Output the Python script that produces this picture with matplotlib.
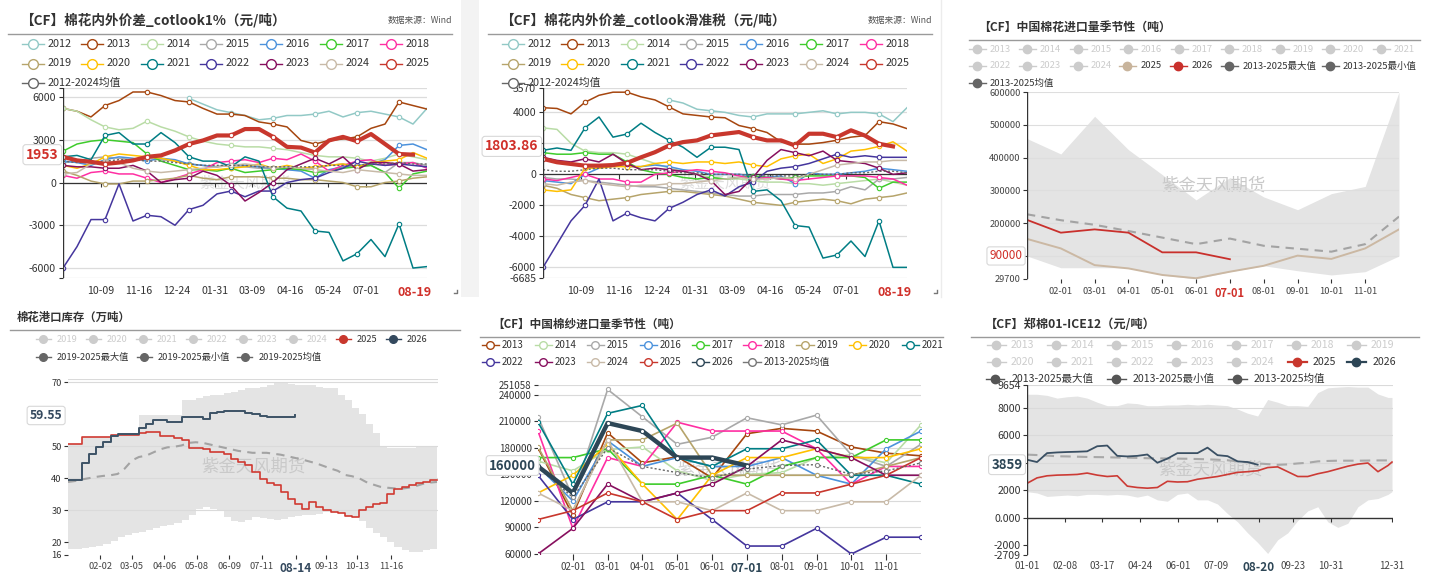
import matplotlib
matplotlib.use('Agg')
import matplotlib.pyplot as plt
from matplotlib.lines import Line2D
from matplotlib.patches import Rectangle
import numpy as np
import pandas as pd

plt.rcParams['font.family'] = ['Noto Sans CJK SC', 'DejaVu Sans']
plt.rcParams['axes.unicode_minus'] = False

W, H = 1429, 575

# ===================== DATA =====================
# ---- panels 1 & 2: season Sep-01 .. Aug-31, samples every 14 days ----
P12_SEASON_START = '2024-09-01'
P12_DAYS = [0, 14, 28, 42, 56, 70, 84, 98, 112, 126, 140, 154, 168, 182, 196,
            210, 224, 238, 252, 266, 280, 294, 308, 322, 336, 350, 364]
P12_TICK_LABELS = ['10-09', '11-16', '12-24', '01-31', '03-09', '04-16', '05-24', '07-01', '08-19']
N = None
P1 = {
    '2012': [N, N, N, N, N, N, N, N, N, 5900, 5500, 5100, 4900, 4700, 4400, 4500, 4700, 4700,
             4800, 5000, 4600, 4900, 5000, 4800, 4600, 4100, 5200],
    '2013': [5200, 5000, 4600, 5400, 5750, 6350, 6350, 6100, 5750, 5650, 5200, 4800, 4800, 4700,
             4250, 4100, 3900, 2950, 2700, 2950, 3050, 3200, 3800, 4100, 5650, 5400, 5150],
    '2014': [5200, 5000, 4400, 3900, 3700, 3800, 4300, 3900, 3600, 3200, 2900, 2700, 2600, 2500,
             2500, 2400, 2300, 2100, 1900, 1800, 1800, 1700, 1500, 1700, 2000, 1800, 1600],
    '2015': [1400, 1500, 1700, 1800, 1700, 1600, 1700, 1600, 1500, 1300, 1200, 1100, 1200, 1100,
             1000, 1000, 900, 900, 1000, 1200, 1300, 1100, 1200, 700, 1400, 1400, 1200],
    '2016': [1500, 1400, 1200, 1600, 1800, 1700, 1500, 1700, 1600, 1300, 1200, 1100, 1300, 1200,
             1100, 1000, 900, 800, 300, 900, 1100, 1200, 1300, 1600, 2600, 2700, 2300],
    '2017': [2200, 2700, 2900, 3000, 2900, 2800, 2000, 1500, 1200, 900, 900, 800, 1000, 700,
             800, 900, 1000, 900, 700, 800, 1000, 1100, 1200, 700, -400, 600, 800],
    '2018': [500, 300, 700, 800, 600, 600, 300, 0, 300, 600, 900, 1400, 1500, 1600, 1400, 1700,
             1600, 2000, 1500, 800, 1200, 1500, 1600, 1200, 1300, 1400, 1000],
    '2019': [800, 500, 100, -100, -100, 100, 100, 200, 300, 500, 300, 200, 400, 400, 400, 300,
             300, 200, 200, 100, 0, -300, -300, 0, 100, 300, 400],
    '2020': [1200, 1000, 1300, 1800, 2000, 1900, 1800, 1700, 1500, 1200, 900, 900, 1000, 1100,
             1300, 1000, 1200, 1000, 1100, 1200, 1300, 1100, 1400, 1500, 1600, 2100, 1700],
    '2021': [1800, 1900, 1600, 3300, 3500, 2700, 2700, 3500, 2800, 1800, 1500, 1500, 1100, 1800,
             1500, -1000, -1800, -2000, -3400, -3500, -5500, -5000, -4000, -5200, -2900, -6000, -5900],
    '2022': [-6000, -4500, -2600, -2600, -100, -2700, -2300, -2400, -3000, -1900, -1600, -800, -600,
             -1000, -600, -600, 0, 200, 300, 700, 1000, 1500, 1300, 1200, 1300, 1200, 1100],
    '2023': [1200, 1100, 1100, 1000, 1000, 1200, 800, 0, 200, 300, 800, 500, -200, -1300, -700,
             0, 900, 1300, 1700, 1300, 1800, 900, 1400, 1400, 1300, 800, 900],
    '2024': [600, 700, 1300, 1500, 1400, 1000, 800, 700, 800, 900, 1000, 1100, 1200, 1300, 1200,
             1000, 1100, 1000, 900, 800, 700, 900, 800, 700, 600, 500, 500],
    '2025': [1800, 1550, 1450, 1300, 1400, 1550, 1800, 1900, 2250, 2700, 2950, 3300, 3300, 3750,
             3750, 3200, 2500, 2450, 2100, 2950, 3200, 2900, 3400, 2700, 2000, 1953, N],
    'mean': [1500, 1400, 1400, 1500, 1600, 1600, 1500, 1500, 1400, 1300, 1200, 1200, 1200, 1200,
             1100, 1100, 1100, 1100, 1100, 1200, 1200, 1200, 1300, 1300, 1400, 1300, 1300],
}
P2 = {
    '2012': [N, N, N, N, N, N, N, N, N, 4800, 4600, 4200, 4100, 4000, 3800, 3700, 3900, 3900,
             3900, 4000, 4100, 3900, 4000, 4000, 3900, 3400, 4300],
    '2013': [4300, 4250, 3900, 4650, 5100, 5300, 5300, 5000, 4800, 4350, 3900, 3800, 3700, 3650,
             3150, 2950, 2700, 2100, 1950, 1950, 2050, 2200, 2400, 2500, 3400, 3250, 2950],
    '2014': [3000, 2900, 2000, 1500, 1400, 1400, 1300, 1000, 700, 400, 200, 0, -200, -300, -300,
             -400, -500, -500, -600, -600, -700, -600, -500, -400, -300, -500, -700],
    '2015': [-200, -300, -300, -400, -500, -600, -700, -800, -800, -900, -1000, -1100, -1200, -1300,
             -1400, -1400, -1300, -1300, -1300, -1200, -1200, -1100, -800, -1000, -300, -300, -200],
    '2016': [-400, -500, -600, 0, 400, 600, 500, 500, 600, 500, 300, 200, 0, 0, 0, -100, -200,
             -100, -600, 100, 0, 0, 100, 200, 400, 300, 200],
    '2017': [1400, 1300, 1300, 1400, 1300, 1300, 800, 300, 100, 0, -200, -300, -200, -300, -200,
             -100, -200, -300, -200, -100, -100, -100, -100, -200, -900, -500, -500],
    '2018': [-300, -400, -200, 0, -300, -300, -500, -500, 0, 100, 200, 300, 200, 100, -100, -300,
             -200, -300, -400, -300, -200, -100, -100, -100, -200, -300, -700],
    '2019': [-700, -900, -1300, -1500, -1700, -1600, -1500, -1300, -1200, -1100, -1100, -1200, -1300,
             -1400, -1600, -1800, -1900, -2000, -1800, -1700, -1600, -1700, -1900, -1600, -1500, -1400, -1200],
    '2020': [-1000, -1100, -1000, 400, 400, 500, 500, 500, 700, 800, 700, 800, 800, 700, 800, 600,
             500, 1000, 1200, 1300, 700, 1000, 1500, 1600, 1800, 2100, 1500],
    '2021': [1550, 1700, 1550, 3000, 3700, 2400, 2600, 3300, 2700, 2200, 1750, 1100, 1750, 1750,
             1600, -1100, -1000, -1700, -3300, -3400, -5400, -5200, -4300, -5300, -3000, -6000, -6000],
    '2022': [-6000, -4500, -3000, -2000, -300, -3000, -2500, -2800, -3000, -2200, -1800, -1300, -1000,
             -1400, -800, -500, 200, 400, 500, 700, 1000, 1300, 1100, 1200, 1100, 1100, 1100],
    '2023': [1100, 900, 800, 1000, 800, 1300, 700, 300, 400, 300, 200, 0, -400, -1300, -1100, -200,
             900, 1600, 1400, 1200, 1500, 900, 800, 700, 400, 0, 100],
    '2024': [-600, -700, -500, -400, -600, -700, -800, -700, -700, -600, -600, -500, -400, -300, -200,
             -300, -300, -200, -300, 0, 300, 600, 700, 800, 800, 900, 900],
    '2025': [1000, 780, 670, 560, 560, 600, 740, 1100, 1430, 1860, 2080, 2190, 2510, 2620, 2730,
             2400, 2190, 2190, 1860, 2620, 2620, 2400, 2840, 2500, 1970, 1804, N],
    'mean': [300, 200, 200, 300, 400, 400, 300, 300, 300, 200, 100, 100, 0, 0, 0, -100, -100, -100,
             -100, 0, 0, 0, 100, 100, 200, 200, 100],
}

# ---- panel 3: China cotton imports, monthly (t) ----
P3_MONTHS = ['01-01', '02-01', '03-01', '04-01', '05-01', '06-01', '07-01', '08-01',
             '09-01', '10-01', '11-01', '12-01']
P3_MAX = [458000, 411000, 526000, 424000, 348000, 271000, 339000, 280000, 241000, 290000, 312000, 600000]
P3_MIN = [100000, 64000, 64000, 64000, 42000, 29700, 52000, 70000, 55000, 42000, 52000, 100000]
P3_MEAN = [227000, 209000, 195000, 176000, 156000, 136000, 153000, 131000, 122000, 113000, 136000, 220000]
P3_2025 = [152000, 123000, 72000, 62000, 42000, 32000, 52000, 70000, 101000, 91000, 123000, 181000]
P3_2026 = [210000, 171000, 181000, 171000, 111000, 111000, 90000]

# ---- panel 4: cotton port inventory, weekly (10k t) ----
P4_YEAR = 2025
P4_WEEK_DAYS = [7 * i for i in range(53)]
P4_TICK_LABELS = ['02-02', '03-05', '04-06', '05-08', '06-09', '07-11', '08-14', '09-13', '10-13', '11-16']
P4_2025 = [50.5, 50.5, 52.9, 52.9, 52.9, 52.9, 53.5, 53.5, 53.5, 53.5, 54.2, 54.5, 54.5, 53.3,
           53.0, 52.6, 52.0, 49.5, 49.3, 49.0, 48.2, 48.2, 47.5, 46.1, 45.0, 44.0, 41.9, 39.8,
           38.5, 37.7, 35.7, 33.6, 32.0, 30.4, 32.5, 31.1, 29.9, 29.3, 29.0, 28.3, 27.8, 29.9,
           30.9, 32.0, 32.3, 35.1, 36.7, 37.2, 37.7, 38.5, 38.9, 39.3, 39.5]
P4_2026 = [39.5, 39.5, 44.6, 47.4, 49.8, 51.4, 53.1, 53.7, 53.7, 53.7, 55.6, 56.9, 58.2, 58.2,
           57.6, 57.6, 59.0, 59.0, 59.0, 58.5, 60.3, 60.5, 61.0, 61.0, 61.0, 60.3, 60.0, 59.4,
           59.2, 59.0, 59.0, 59.2, 59.55]
P4_MEAN = [38.8, 39.1, 39.6, 40.0, 40.4, 40.7, 40.9, 41.3, 43.0, 45.5, 46.6, 47.0, 48.0, 49.0,
           49.6, 49.8, 50.2, 51.0, 51.2, 51.0, 50.5, 50.0, 49.5, 49.0, 48.5, 48.2, 47.9, 47.9,
           47.9, 47.6, 47.3, 46.8, 46.3, 45.8, 45.2, 44.6, 43.8, 43.0, 42.3, 41.0, 40.6, 40.0,
           38.8, 38.0, 37.3, 37.0, 36.8, 36.7, 37.0, 37.5, 38.2, 38.6, 38.8]
P4_MAX = [50.5, 50.5, 52.9, 52.9, 52.9, 52.9, 53.5, 53.7, 53.7, 54.0, 59.7, 59.7, 59.7, 59.7,
          59.7, 59.7, 64.4, 64.5, 65.0, 65.5, 66.0, 66.0, 66.5, 67.0, 67.5, 68.0, 68.1, 68.5,
          69.0, 69.7, 69.7, 69.5, 69.2, 69.2, 69.0, 68.5, 68.1, 68.0, 66.0, 64.4, 62.0, 60.0,
          57.0, 54.0, 49.8, 49.3, 49.3, 49.5, 49.5, 49.8, 50.0, 50.1, 50.1]
P4_MIN = [17.9, 18.0, 18.2, 18.5, 18.9, 19.5, 20.5, 21.5, 22.3, 22.8, 23.3, 23.8, 24.3, 25.0,
          25.5, 26.0, 26.8, 28.5, 30.5, 31.0, 30.5, 29.9, 28.0, 26.5, 26.2, 27.0, 27.8, 27.5,
          27.2, 26.8, 27.3, 28.0, 28.3, 28.5, 28.6, 28.8, 29.5, 29.3, 29.0, 28.3, 27.8, 26.5,
          24.5, 23.0, 21.5, 20.0, 18.5, 17.5, 16.8, 17.0, 17.5, 18.0, 18.4]

# ---- panel 5: China cotton yarn imports, monthly (t) ----
P5_MONTHS = P3_MONTHS
P5 = {
    '2013': [180000, 104000, 197000, 163000, 170000, 146000, 196000, 202000, 199000, 181000, 174000, 171000],
    '2014': [165000, 154000, 178000, 181000, 154000, 143000, 150000, 152000, 169000, 172000, 163000, 206000],
    '2015': [215000, 124000, 246000, 215000, 184000, 192000, 214000, 206000, 217000, 172000, 159000, 184000],
    '2016': [159000, 120000, 188000, 159000, 169000, 159000, 159000, 169000, 149000, 139000, 179000, 199000],
    '2017': [169000, 169000, 179000, 139000, 139000, 149000, 139000, 159000, 169000, 169000, 189000, 189000],
    '2018': [199000, 89000, 169000, 159000, 209000, 199000, 199000, 199000, 179000, 139000, 159000, 159000],
    '2019': [181000, 109000, 189000, 189000, 208000, 149000, 149000, 149000, 149000, 149000, 159000, 169000],
    '2020': [129000, 149000, 184000, 139000, 99000, 149000, 169000, 169000, 179000, 169000, 169000, 179000],
    '2021': [209000, 139000, 219000, 228000, 169000, 159000, 179000, 179000, 189000, 149000, 149000, 139000],
    '2022': [149000, 99000, 119000, 119000, 129000, 99000, 69000, 69000, 89000, 60000, 79000, 79000],
    '2023': [60000, 89000, 139000, 119000, 129000, 139000, 159000, 189000, 179000, 169000, 149000, 149000],
    '2024': [129000, 109000, 189000, 119000, 119000, 109000, 129000, 109000, 109000, 119000, 119000, 149000],
    '2025': [99000, 109000, 129000, 119000, 99000, 109000, 109000, 129000, 129000, 139000, 149000, 169000],
    '2026': [159000, 129000, 208000, 199000, 169000, 169000, 160000],
    'mean': [158000, 124000, 180000, 159000, 152000, 146000, 156000, 160000, 161000, 150000, 154000, 163000],
}

# ---- panel 6: CZCE cotton 01 - ICE 12 spread, every 10 days (yuan/t) ----
P6_DAYS = [0, 10, 20, 30, 40, 50, 60, 70, 80, 90, 100, 110, 120, 130, 140, 150, 160, 170, 180,
           190, 200, 210, 220, 230, 240, 250, 260, 270, 280, 290, 300, 310, 320, 330, 340, 350, 360, 364]
P6_TICK_LABELS = ['01-01', '02-08', '03-17', '04-24', '06-01', '07-09', '08-20', '09-23', '10-31', '12-31']
P6_2025 = [2500, 2900, 3050, 3100, 3120, 3150, 3250, 3100, 3000, 3050, 2300, 2200, 2150, 2200,
           2650, 2600, 2620, 2800, 2900, 3000, 3150, 3300, 3350, 3420, 3650, 3700, 3350, 3000,
           3000, 3200, 3350, 3550, 3750, 3900, 3980, 3350, 3800, 4050]
P6_2026 = [4220, 4050, 4700, 4750, 4780, 4800, 4830, 5200, 5250, 4500, 4460, 4500, 4600, 4000,
           4300, 4700, 4700, 4700, 5100, 4550, 4480, 4100, 4050, 3859]
P6_MEAN = [4590, 4560, 4520, 4470, 4460, 4440, 4420, 4410, 4400, 4380, 4370, 4350, 4330, 4320,
           4310, 4300, 4290, 4270, 4250, 4220, 4180, 4100, 4030, 3950, 3900, 3850, 3880, 3950,
           4000, 4100, 4130, 4150, 4150, 4150, 4160, 4170, 4170, 4170]
P6_MAX = [8980, 8980, 8900, 8700, 8800, 8850, 8700, 8400, 8150, 8150, 8350, 8300, 8150, 8150,
          8200, 8200, 8250, 8200, 8250, 8200, 8150, 7900, 7600, 7400, 8600, 8400, 8150, 8150,
          8100, 9100, 9450, 9500, 9540, 9500, 9500, 9000, 8750, 8750]
P6_MIN = [1900, 1800, 1550, 1600, 1650, 1600, 1700, 1700, 1650, 1700, 1650, 1500, 1650, 1300,
          1200, 1700, 1800, 1300, 1300, 1000, 300, -300, -1100, -1800, -2600, -1600, -1100, -200,
          500, 800, -300, -700, -400, 800, 1300, 1400, 1700, 1900]

COLORS = {'2012': '#92c9c6', '2013': '#a6460f', '2014': '#b9dca6', '2015': '#a9a9a9',
          '2016': '#4c92dc', '2017': '#3fcc2c', '2018': '#ff2fa3', '2019': '#b6a46b',
          '2020': '#ffc000', '2021': '#007d84', '2022': '#45369d', '2023': '#870f5e',
          '2024': '#c8baa8', '2025': '#c8372d', 'mean': '#777777', '2026': '#2d4656'}

# ===================== HELPERS =====================
fig = plt.figure(figsize=(W / 100, H / 100), dpi=100)
fig.patch.set_facecolor('white')


def add_ax(x0, y0, x1, y1):
    return fig.add_axes([x0 / W, 1 - y1 / H, (x1 - x0) / W, (y1 - y0) / H])


def ftext(x, y, s, **kw):
    return fig.text(x / W, 1 - y / H, s, **kw)


def fline(x0, x1, y, color='#9a9a9a', lw=1.0):
    fig.add_artist(Line2D([x0 / W, x1 / W], [1 - y / H, 1 - y / H], color=color, lw=lw))


def legend_item(xc, y, label, color, seg, ms, text_x, fs, filled=False,
                text_color='#333333', lw=1.0):
    fig.add_artist(Line2D([(xc - seg / 2) / W, (xc + seg / 2) / W], [1 - y / H] * 2,
                          color=color, lw=lw))
    fig.add_artist(Line2D([xc / W], [1 - y / H], marker='o', ms=ms, lw=0,
                          mfc=(color if filled else 'white'), mec=color, mew=1.0))
    ftext(text_x, y, label, color=text_color, fontsize=fs, va='center', ha='left')


def base_style(ax):
    for s in ax.spines.values():
        s.set_visible(False)
    ax.set_facecolor('none')
    ax.tick_params(colors='#333333', labelcolor='#333333')


def tip(ax, yval, s, color, fs=10, weight='bold', dx=-0.012):
    ax.text(dx, yval, s, transform=ax.get_yaxis_transform(), ha='right', va='center',
            fontsize=fs, color=color, fontweight=weight, zorder=20, clip_on=False,
            bbox=dict(boxstyle='round,pad=0.22', fc='white', ec='#d8d8d8', lw=0.8))


def watermark(ax, fs=12.5, alpha=1.0, color='#c9c9c9'):
    ax.text(0.5, 0.5, '紫金天风期货', transform=ax.transAxes, ha='center', va='center',
            fontsize=fs, color=color, alpha=alpha, zorder=2)


def season_days(labels, start):
    s = pd.Timestamp(start)
    out = []
    for lab in labels:
        mth, d = int(lab[:2]), int(lab[3:])
        yr = s.year if mth >= s.month else s.year + 1
        out.append((pd.Timestamp(yr, mth, d) - s).days)
    return out


def doy_days(labels, year):
    s = pd.Timestamp(year, 1, 1)
    return [(pd.Timestamp(year, int(l[:2]), int(l[3:])) - s).days for l in labels]


# gap strip between panel 1 and 2, thin border before panel 3
fig.add_artist(Rectangle((461 / W, 1 - 297 / H), 18 / W, 297 / H, color='#f3f3f3', lw=0))
fig.add_artist(Line2D([941 / W, 941 / W], [1 - 297 / H, 1], color='#ececec', lw=1))
for cx in (457, 937):
    fig.add_artist(Line2D([(cx - 3) / W, cx / W, cx / W], [1 - 293 / H, 1 - 293 / H, 1 - 290 / H],
                          color='#777777', lw=1))


# ===================== PANELS 1 & 2 =====================
def draw_spread(ox, data, title, ylim, yticks, ylabels, tipval, tiptext):
    ftext(ox + 20, 20, title, fontsize=9.8, fontweight='bold', color='#333333', va='center')
    ftext(ox + 452, 20, '数据来源：Wind', fontsize=6.3, color='#555555', va='center', ha='right')
    fline(ox + 8, ox + 452, 34)
    names = ['2012', '2013', '2014', '2015', '2016', '2017', '2018',
             '2019', '2020', '2021', '2022', '2023', '2024', '2025']
    xs = [22, 81, 141, 200, 260, 320, 380]
    for i, nm in enumerate(names):
        xc = ox + xs[i % 7] + 11
        legend_item(xc, 44 + 19.5 * (i // 7), nm, COLORS[nm], 22, 7, xc + 15, 7.8)
    legend_item(ox + 33, 83, '2012-2024均值', '#666666', 22, 7, ox + 48, 7.8)

    ax = add_ax(ox + 63, 88, ox + 427, 278)
    base_style(ax)
    days = np.array(P12_DAYS, float)
    watermark(ax, fs=11, color='#dddddd')
    for nm in names:
        y = np.array([np.nan if v is None else v for v in data[nm]], float)
        thick = nm == '2025'
        ax.plot(days, y, color=COLORS[nm], lw=3.0 if thick else 1.1, zorder=6 if thick else 4,
                marker='o', ms=3.2, mfc='white', mec=COLORS[nm], mew=0.8, markevery=3)
    ym = np.array(data['mean'], float)
    ax.plot(days, ym, color='#666666', lw=1.0, ls=(0, (1.5, 1.5)), zorder=5)
    ax.set_xlim(0, 364)
    ax.set_ylim(*ylim)
    for g in yticks:
        ax.axhline(g, color='#dcdcdc', lw=0.9, zorder=1)
    ax.axhline(0, color='#333333', lw=0.9, zorder=3)
    ax.axvline(0, color='#333333', lw=1.0, zorder=7)
    ax.set_yticks(yticks)
    ax.set_yticklabels(ylabels, fontsize=7.6)
    ax.tick_params(axis='y', length=3, width=0.8, pad=2, color='#333333')
    tk = season_days(P12_TICK_LABELS, P12_SEASON_START)
    ax.set_xticks(tk)
    ax.set_xticklabels(P12_TICK_LABELS, fontsize=7.6)
    ax.tick_params(axis='x', length=0, pad=6)
    lab = ax.get_xticklabels()[-1]
    lab.set_color('#d0302a'); lab.set_fontweight('bold'); lab.set_fontsize(9)
    ax.vlines(tk[:-1], 0, -(ylim[1] - ylim[0]) * 0.022, color='#333333', lw=0.8, zorder=3)
    tip(ax, tipval, tiptext, '#d0302a', fs=10)
    return ax


draw_spread(0, P1, '【CF】棉花内外价差_cotlook1%（元/吨）', (-6700, 6630),
            [-6700, -6000, -3000, 0, 3000, 6000, 6630], ['', '-6000', '-3000', '0', '3000', '6000', ''],
            1953, '1953')
draw_spread(480, P2, '【CF】棉花内外价差_cotlook滑准税（元/吨）', (-6685, 5570),
            [-6685, -6000, -4000, -2000, 0, 2000, 4000, 5570],
            ['-6685', '-6000', '-4000', '-2000', '0', '', '4000', '5570'],
            1803.86, '1803.86')

# ===================== PANEL 3 =====================
ftext(978, 27, '【CF】中国棉花进口量季节性（吨）', fontsize=8.6, fontweight='bold', color='#333333', va='center')
fline(969, 1420, 40)
grey_c = '#cccccc'
p3_row1 = ['2013', '2014', '2015', '2016', '2017', '2018', '2019', '2020', '2021']
p3_x = [968, 1018, 1069, 1119, 1170, 1220, 1271, 1321, 1372]
for nm, x in zip(p3_row1, p3_x):
    legend_item(x + 9, 49, nm, grey_c, 17, 6, x + 22, 6.8, filled=True, text_color=grey_c)
for nm, x in zip(['2022', '2023', '2024'], p3_x[:3]):
    legend_item(x + 9, 66, nm, grey_c, 17, 6, x + 22, 6.8, filled=True, text_color=grey_c)
legend_item(1127, 66, '2025', '#c8b49c', 17, 6, 1141, 6.8, filled=True)
legend_item(1178, 66, '2026', '#c9302c', 17, 6, 1192, 6.8, filled=True)
legend_item(1229, 66, '2013-2025最大值', '#666666', 17, 6, 1243, 6.8, filled=True)
legend_item(1330, 66, '2013-2025最小值', '#666666', 17, 6, 1343, 6.8, filled=True)
legend_item(977, 83, '2013-2025均值', '#666666', 17, 6, 990, 6.8, filled=True)

ax3 = add_ax(1027, 92, 1399, 279)
base_style(ax3)
mx = np.arange(len(P3_MONTHS))
ax3.fill_between(mx, P3_MIN, P3_MAX, color='#e4e4e4', lw=0, zorder=1)
watermark(ax3, fs=12.5)
ax3.plot(mx, P3_MEAN, color='#a3a3a3', lw=1.5, ls=(0, (4, 3)), zorder=4)
ax3.plot(mx, P3_2025, color='#cbb8a3', lw=1.4, zorder=5)
ax3.plot(mx[:len(P3_2026)], P3_2026, color='#c9302c', lw=1.3, zorder=6)
ax3.set_xlim(0, 11)
ax3.set_ylim(29700, 600000)
for g in [100000, 200000, 300000, 400000, 500000, 600000]:
    ax3.axhline(g, color='#dedede', lw=0.8, zorder=2)
ax3.axvline(0, color='#333333', lw=1.0, zorder=7)
ax3.set_yticks([29700, 100000, 200000, 300000, 400000, 500000, 600000])
ax3.set_yticklabels(['29700', '', '200000', '300000', '400000', '500000', '600000'], fontsize=6.7, color='#444444')
ax3.tick_params(axis='y', length=3, width=0.8, pad=1.5)
ax3.set_xticks(mx[1:11])
ax3.set_xticklabels(P3_MONTHS[1:11], fontsize=6.7, color='#444444')
ax3.tick_params(axis='x', length=3, width=0.8, pad=2.5, color='#333333')
l3 = ax3.get_xticklabels()[5]
l3.set_color('#d0302a'); l3.set_fontsize(8); l3.set_fontweight('bold')
tip(ax3, 100000, '90000', '#d0302a', fs=8.5, weight='normal')

# ===================== PANEL 4 =====================
ftext(17, 317, '棉花港口库存（万吨）', fontsize=8.2, fontweight='bold', color='#333333', va='center')
fline(10, 460, 330)
p4_x = [35, 85, 135, 185, 235, 285]
for nm, x in zip(['2019', '2020', '2021', '2022', '2023', '2024'], p4_x):
    legend_item(x + 8, 339, nm, grey_c, 15, 5.5, x + 22, 6.7, filled=True, text_color=grey_c)
legend_item(343, 339, '2025', '#c8372d', 15, 5.5, 357, 6.7, filled=True)
legend_item(393, 339, '2026', '#34495e', 15, 5.5, 407, 6.7, filled=True)
legend_item(43, 357, '2019-2025最大值', '#666666', 15, 5.5, 57, 6.7, filled=True)
legend_item(144, 357, '2019-2025最小值', '#666666', 15, 5.5, 158, 6.7, filled=True)
legend_item(245, 357, '2019-2025均值', '#666666', 15, 5.5, 259, 6.7, filled=True)

ax4 = add_ax(68, 379, 438, 555)
base_style(ax4)
wd = np.array(P4_WEEK_DAYS, float)
ax4.fill_between(wd, P4_MIN, P4_MAX, step='post', color='#e4e4e4', lw=0, zorder=1)
watermark(ax4, fs=12.5)
ax4.plot(wd, P4_MEAN, color='#a3a3a3', lw=1.5, ls=(0, (4, 3)), zorder=4)
ax4.step(wd, P4_2025, where='post', color='#d03a32', lw=1.2, zorder=5)
ax4.step(wd[:len(P4_2026)], P4_2026, where='post', color='#3d5366', lw=1.4, zorder=6)
ax4.set_xlim(0, 365)
ax4.set_ylim(16, 70.94)
for g in [30, 40, 50, 70, 70.94]:
    ax4.axhline(g, color='#dadada', lw=0.8, zorder=2)
ax4.set_yticks([16, 20, 30, 40, 50, 70])
ax4.set_yticklabels(['16', '20', '30', '40', '50', '70'], fontsize=6.7)
ax4.tick_params(axis='y', length=3, width=0.8, pad=1.5)
t4 = doy_days(P4_TICK_LABELS, P4_YEAR)
ax4.set_xticks(t4)
ax4.set_xticklabels(P4_TICK_LABELS, fontsize=6.7, color='#444444')
ax4.tick_params(axis='x', length=3, width=0.8, pad=2)
l4 = ax4.get_xticklabels()[6]
l4.set_color('#34495e'); l4.set_fontweight('bold'); l4.set_fontsize(8.5)
tip(ax4, 59.55, '59.55', '#34495e', fs=8.8, dx=-0.015)

# ===================== PANEL 5 =====================
ftext(492, 324, '【CF】中国棉纱进口量季节性（吨）', fontsize=8.4, fontweight='bold', color='#333333', va='center')
fline(480, 943, 337)
p5_x = [490, 543, 595, 648, 700, 752, 805, 857, 910]
p5_row1 = ['2013', '2014', '2015', '2016', '2017', '2018', '2019', '2020', '2021']
for nm, x in zip(p5_row1, p5_x):
    legend_item(x, 345, nm, COLORS[nm], 17, 5.5, x + 12, 7)
p5_row2 = ['2022', '2023', '2024', '2025', '2026']
for nm, x in zip(p5_row2, p5_x[:5]):
    legend_item(x, 362, nm, COLORS[nm], 17, 5.5, x + 12, 7)
legend_item(752, 362, '2013-2025均值', '#777777', 17, 5.5, 764, 7)

ax5 = add_ax(538, 385, 921, 554)
base_style(ax5)
m5 = np.arange(len(P5_MONTHS))
watermark(ax5, fs=12.5, color='#d2d2d2')
for nm in ['2013', '2014', '2015', '2016', '2017', '2018', '2019', '2020', '2021',
           '2022', '2023', '2024', '2025']:
    ax5.plot(m5, P5[nm], color=COLORS[nm], lw=1.2, marker='o', ms=3, mfc='white',
             mec=COLORS[nm], mew=0.8, zorder=4)
ax5.plot(m5, P5['mean'], color='#666666', lw=1.0, ls=(0, (1.5, 1.5)), marker='o', ms=3,
         mfc='white', mec='#888888', mew=0.8, zorder=5)
ax5.plot(m5[:len(P5['2026'])], P5['2026'], color='#2d4656', lw=3.2, marker='o', ms=3,
         mfc='white', mec='#2d4656', mew=0.8, zorder=6)
ax5.set_xlim(0, 11)
ax5.set_ylim(60000, 251058)
y5 = [60000, 90000, 120000, 150000, 180000, 210000, 240000, 251058]
for g in y5[1:]:
    ax5.axhline(g, color='#dadada', lw=0.8, zorder=1)
ax5.axhline(60000, color='#444444', lw=1.0, zorder=7)
ax5.set_yticks(y5)
ax5.set_yticklabels([str(v) for v in y5], fontsize=7)
ax5.tick_params(axis='y', length=3, width=0.8, pad=1.5)
ax5.set_xticks(m5[1:11])
ax5.set_xticklabels(P5_MONTHS[1:11], fontsize=7, color='#444444')
ax5.tick_params(axis='x', length=4, width=0.8, pad=2)
l5 = ax5.get_xticklabels()[5]
l5.set_color('#2d4656'); l5.set_fontweight('bold'); l5.set_fontsize(8.5)
tip(ax5, 160000, '160000', '#2d4656', fs=9.5, dx=-0.005)

# ===================== PANEL 6 =====================
ftext(985, 324, '【CF】郑棉01-ICE12（元/吨）', fontsize=8.8, fontweight='bold', color='#333333', va='center')
fline(971, 1419, 337)
p6_x = [996, 1056, 1116, 1176, 1236, 1296, 1356]
for nm, x in zip(['2013', '2014', '2015', '2016', '2017', '2018', '2019'], p6_x):
    legend_item(x, 345, nm, grey_c, 19, 6, x + 15, 7.6, filled=True, text_color=grey_c)
for nm, x in zip(['2020', '2021', '2022', '2023', '2024'], p6_x[:5]):
    legend_item(x, 362, nm, grey_c, 19, 6, x + 15, 7.6, filled=True, text_color=grey_c)
legend_item(1297, 362, '2025', '#c8372d', 19, 6, 1313, 7.6, filled=True, lw=1.6)
legend_item(1356, 362, '2026', '#2d4656', 19, 6, 1373, 7.6, filled=True, lw=1.6)
legend_item(995, 379, '2013-2025最大值', '#555555', 19, 6, 1012, 7.6, filled=True)
legend_item(1116, 379, '2013-2025最小值', '#555555', 19, 6, 1133, 7.6, filled=True)
legend_item(1237, 379, '2013-2025均值', '#555555', 19, 6, 1254, 7.6, filled=True)

ax6 = add_ax(1027, 385, 1393, 555)
base_style(ax6)
d6 = np.array(P6_DAYS, float)
ax6.fill_between(d6, P6_MIN, P6_MAX, color='#e4e4e4', lw=0, zorder=1)
watermark(ax6, fs=12.5)
ax6.plot(d6, P6_MEAN, color='#a8a8a8', lw=1.5, ls=(0, (5, 3)), zorder=4)
ax6.plot(d6, P6_2025, color='#cc3b35', lw=1.2, zorder=5)
ax6.plot(d6[:len(P6_2026)], P6_2026, color='#3a5064', lw=1.3, zorder=6)
ax6.set_xlim(0, 365)
ax6.set_ylim(-2709, 9654)
for g in [2000, 4000, 6000, 8000, 9654]:
    ax6.axhline(g, color='#dadada', lw=0.8, zorder=2)
ax6.axhline(0, color='#333333', lw=1.0, zorder=7)
ax6.axvline(0, color='#333333', lw=1.0, zorder=7)
y6 = [-2709, -2000, 0, 2000, 4000, 6000, 8000, 9654]
ax6.set_yticks(y6)
ax6.set_yticklabels(['-2709', '-2000', '0.000', '2000', '', '6000', '8000', '9654'], fontsize=7.6)
ax6.tick_params(axis='y', length=3, width=0.8, pad=1.5)
t6 = doy_days(P6_TICK_LABELS, 2025)
ax6.set_xticks(t6)
ax6.set_xticklabels(P6_TICK_LABELS, fontsize=7, color='#444444')
ax6.tick_params(axis='x', length=0, pad=4)
l6 = ax6.get_xticklabels()[6]
l6.set_color('#2d4656'); l6.set_fontweight('bold'); l6.set_fontsize(8.5)
ax6.vlines(t6[1:], 0, -(9654 + 2709) * 0.025, color='#333333', lw=0.8, zorder=7)
tip(ax6, 3859, '3859', '#2d4656', fs=9.5, dx=-0.012)

fig.savefig('out.png', dpi=100, facecolor='white')
